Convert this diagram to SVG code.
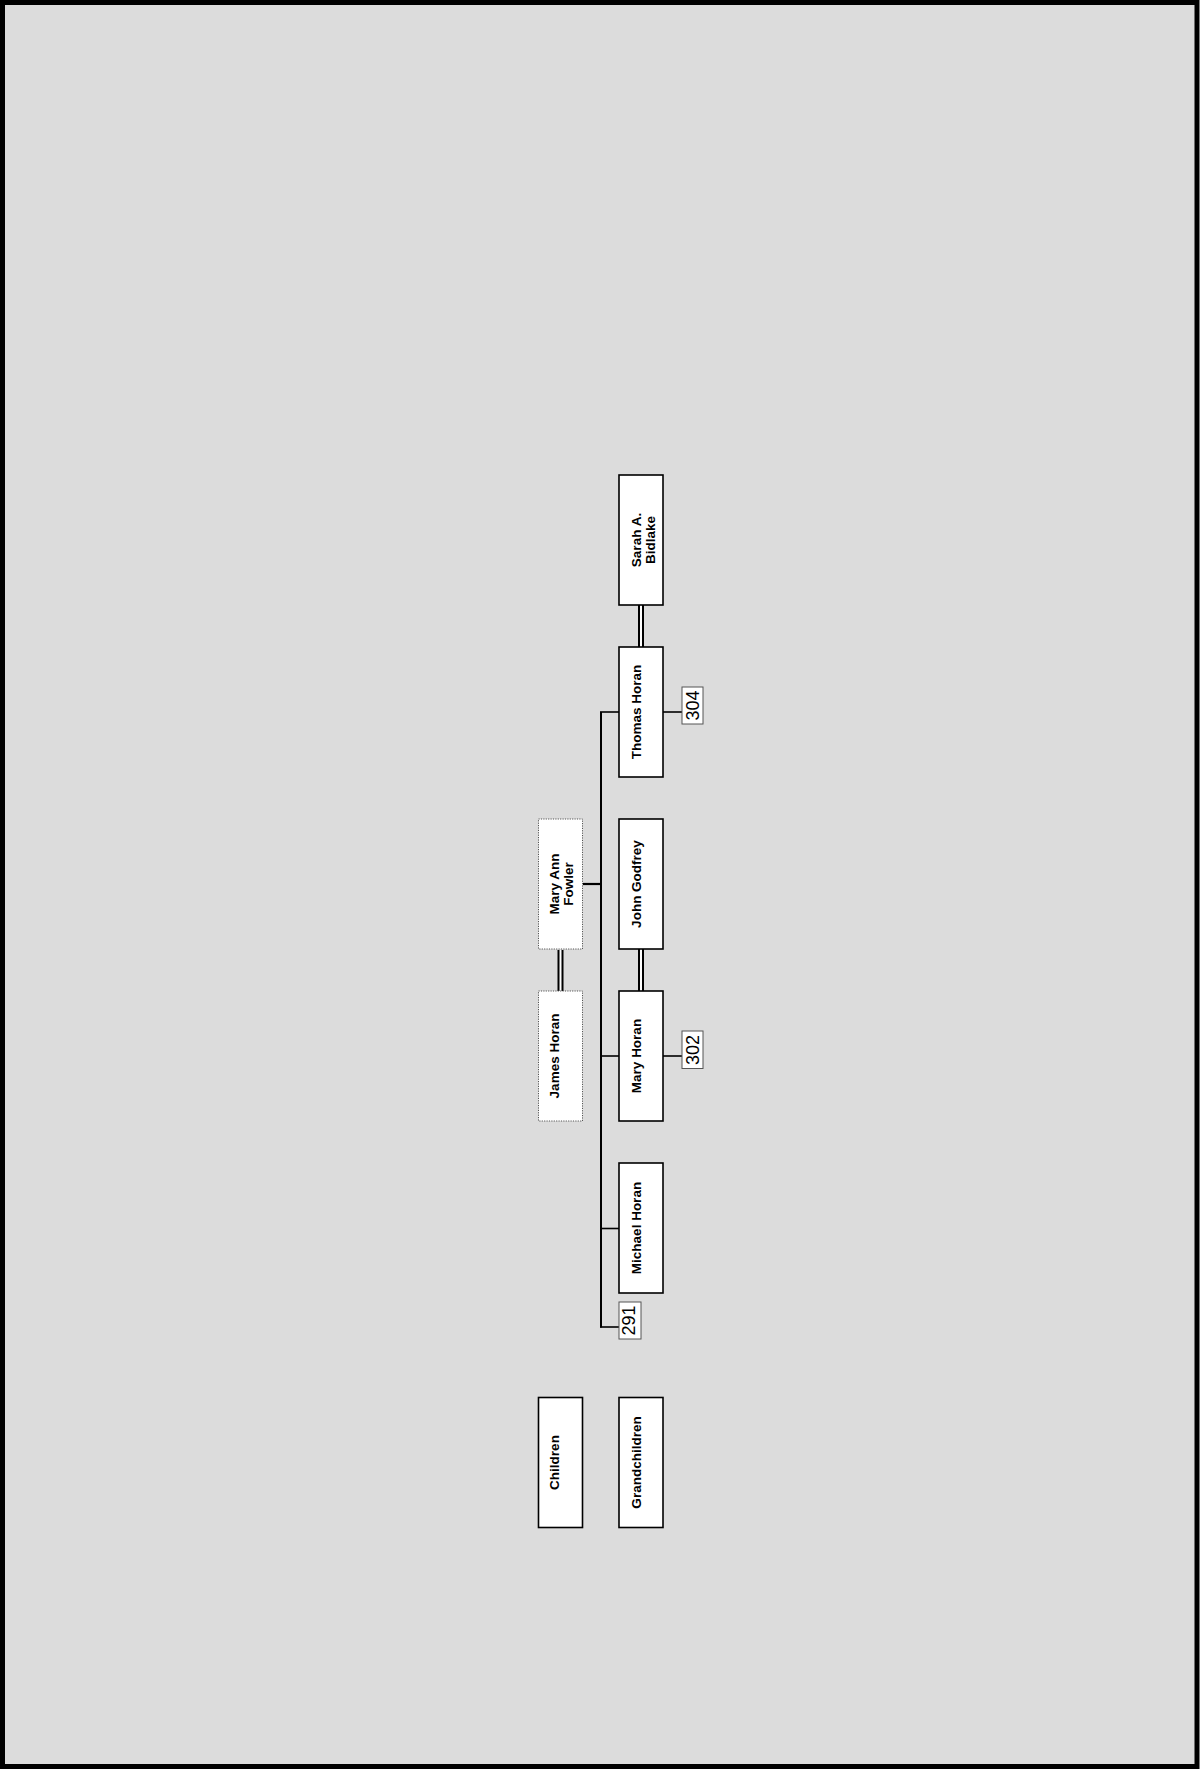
<svg xmlns="http://www.w3.org/2000/svg" width="1200" height="1769" viewBox="0 0 1200 1769">
<style>
.bg{fill:#dcdcdc;stroke:#000;stroke-width:5}
.box{fill:#fff;stroke:#000;stroke-width:1.6}
.dot{fill:#fff;stroke:#555;stroke-width:1;stroke-dasharray:1.2,1.2}
.num{fill:#fff;stroke:#555;stroke-width:1}
.lbl{font-family:"Liberation Sans",Arial,sans-serif;font-weight:bold;font-size:13.5px;fill:#000;text-anchor:middle}
.nt{font-family:"Liberation Sans",Arial,sans-serif;font-size:18px;fill:#000;text-anchor:middle}
.ln{stroke:#000;stroke-width:1.6;fill:none}
.dbo{stroke:#000;stroke-width:6;fill:none}
.dbi{stroke:#fff;stroke-width:2;fill:none}
</style>
<rect class="bg" x="2.5" y="2.5" width="1194.5" height="1764"/>
<g id="connectors">
<line class="ln" x1="583" y1="884" x2="601" y2="884" style="stroke-width:2.2"/>
<line class="ln" x1="601" y1="712" x2="601" y2="1327.5" style="stroke-width:2"/>
<line class="ln" x1="600" y1="712" x2="619" y2="712"/>
<line class="ln" x1="600" y1="1056" x2="619" y2="1056"/>
<line class="ln" x1="600" y1="1228.5" x2="619" y2="1228.5"/>
<line class="ln" x1="600" y1="1327" x2="619" y2="1327"/>
<line class="ln" x1="663" y1="712" x2="682" y2="712"/>
<line class="ln" x1="663" y1="1056" x2="682" y2="1056"/>
<line class="dbo" x1="641" y1="605" x2="641" y2="647"/>
<line class="dbi" x1="641" y1="605" x2="641" y2="647"/>
<line class="dbo" x1="641" y1="949" x2="641" y2="991"/>
<line class="dbi" x1="641" y1="949" x2="641" y2="991"/>
<line class="dbo" x1="560.5" y1="950" x2="560.5" y2="991"/>
<line class="dbi" x1="560.5" y1="950" x2="560.5" y2="991"/>
</g>
<g id="sarah">
<rect class="box" x="619" y="475" width="44" height="130"/>
<text class="lbl" transform="translate(641,540) rotate(-90)"><tspan x="0" y="-0.5">Sarah A.</tspan><tspan x="0" y="14">Bidlake</tspan></text>
</g>
<g id="thomas">
<rect class="box" x="619" y="647" width="44" height="130"/>
<text class="lbl" transform="translate(640.5,712) rotate(-90)">Thomas Horan</text>
</g>
<g id="john">
<rect class="box" x="619" y="819" width="44" height="130"/>
<text class="lbl" transform="translate(640.5,884) rotate(-90)">John Godfrey</text>
</g>
<g id="mary">
<rect class="box" x="619" y="991" width="44" height="130"/>
<text class="lbl" transform="translate(640.5,1056) rotate(-90)">Mary Horan</text>
</g>
<g id="michael">
<rect class="box" x="619" y="1163" width="44" height="130"/>
<text class="lbl" transform="translate(640.5,1228) rotate(-90)">Michael Horan</text>
</g>
<g id="maryann">
<rect class="dot" x="538.5" y="819" width="44" height="130"/>
<text class="lbl" transform="translate(558.5,884) rotate(-90)"><tspan x="0" y="0">Mary Ann</tspan><tspan x="0" y="14.5">Fowler</tspan></text>
</g>
<g id="james">
<rect class="dot" x="538.5" y="991" width="44" height="130"/>
<text class="lbl" transform="translate(558.5,1056) rotate(-90)">James Horan</text>
</g>
<g id="children">
<rect class="box" x="538.5" y="1397.5" width="44" height="130"/>
<text class="lbl" transform="translate(558.5,1462.5) rotate(-90)">Children</text>
</g>
<g id="grandchildren">
<rect class="box" x="619" y="1397.5" width="44" height="130"/>
<text class="lbl" transform="translate(640.5,1462.5) rotate(-90)">Grandchildren</text>
</g>
<g id="n304">
<rect class="num" x="682" y="687" width="21" height="37"/>
<text class="nt" transform="translate(698.5,705.5) rotate(-90)">304</text>
</g>
<g id="n302">
<rect class="num" x="682" y="1031" width="21" height="37.5"/>
<text class="nt" transform="translate(698.5,1050) rotate(-90)">302</text>
</g>
<g id="n291">
<rect class="num" x="619" y="1302" width="22" height="37"/>
<text class="nt" transform="translate(635,1320.5) rotate(-90)">291</text>
</g>
</svg>
